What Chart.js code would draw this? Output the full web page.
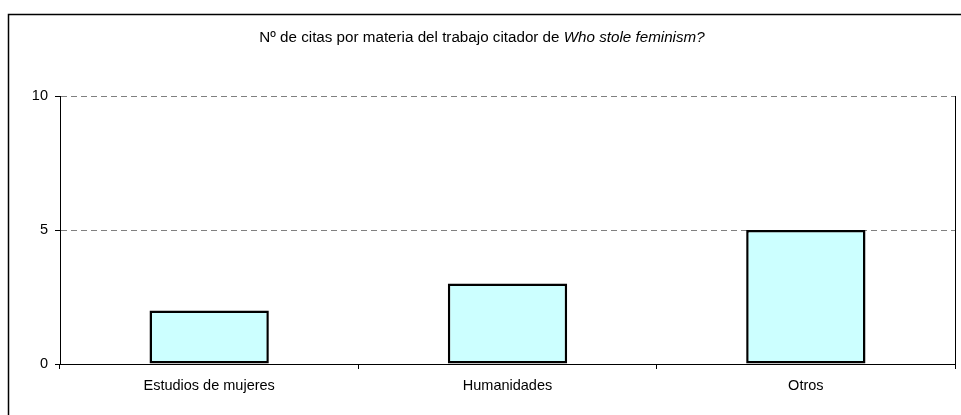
<!DOCTYPE html>
<html>
<head>
<meta charset="utf-8">
<script src="https://cdn.jsdelivr.net/npm/chart.js@4/dist/chart.umd.min.js"></script>
<style>
  html, body { margin: 0; padding: 0; background: #fff; }
  #wrap { width: 961px; height: 415px; position: relative; }
</style>
</head>
<body>
<div id="wrap"><canvas id="c"></canvas></div>
<script>
const categories = ["Estudios de mujeres", "Humanidades", "Otros"];
const citas = [2, 3, 5];
const yTicks = [0, 5, 10];
const titleNormal = "Nº de citas por materia del trabajo citador de ";
const titleItalic = "Who stole feminism?";

const FONT = "'Liberation Sans', Arial, sans-serif";
const TITLE_SIZE = 15.2;

const framePlugin = {
  id: 'frame',
  beforeDraw(chart) {
    const ctx = chart.ctx;
    ctx.save();
    ctx.fillStyle = '#fff';
    ctx.fillRect(0, 0, chart.width, chart.height);
    ctx.strokeStyle = '#000';
    ctx.lineWidth = 1.5;
    ctx.strokeRect(8.5, 14.5, chart.width + 10, chart.height + 10);
    ctx.restore();
  },
  afterDraw(chart) {
    const ctx = chart.ctx;
    const a = chart.chartArea;
    ctx.save();
    ctx.strokeStyle = '#000';
    ctx.lineWidth = 1;
    ctx.beginPath();
    ctx.moveTo(Math.round(a.right) + 0.5, a.top);
    ctx.lineTo(Math.round(a.right) + 0.5, a.bottom + 5);
    ctx.stroke();
    ctx.fillStyle = '#000';
    ctx.textBaseline = 'middle';
    ctx.font = TITLE_SIZE + "px " + FONT;
    const w1 = ctx.measureText(titleNormal).width;
    ctx.font = "italic " + TITLE_SIZE + "px " + FONT;
    const w2 = ctx.measureText(titleItalic).width;
    const x0 = 482 - (w1 + w2) / 2;
    ctx.font = TITLE_SIZE + "px " + FONT;
    ctx.textAlign = 'left';
    ctx.fillText(titleNormal, x0, 38);
    ctx.font = "italic " + TITLE_SIZE + "px " + FONT;
    ctx.fillText(titleItalic, x0 + w1, 38);
    ctx.restore();
  }
};

new Chart(document.getElementById('c'), {
  type: 'bar',
  data: {
    labels: categories,
    datasets: [{
      data: citas,
      backgroundColor: '#CCFFFF',
      borderColor: '#000',
      borderWidth: 2.5,
      borderSkipped: false,
      barPercentage: 0.4,
      categoryPercentage: 1.0
    }]
  },
  options: {
    responsive: true,
    maintainAspectRatio: false,
    animation: false,
    layout: { padding: { top: 96, right: 6, left: 0, bottom: 0 } },
    plugins: {
      legend: { display: false },
      tooltip: { enabled: false },
      title: { display: false }
    },
    scales: {
      x: {
        offset: true,
        grid: {
          offset: true,
          drawOnChartArea: false,
          color: '#000',
          tickColor: '#000',
          tickLength: 5
        },
        border: { display: true, color: '#000', width: 1 },
        ticks: {
          color: '#000',
          font: { family: FONT, size: 14.5 },
          padding: 8,
          maxRotation: 0
        },
        afterFit(s) { s.height = 51; }
      },
      y: {
        min: 0,
        max: 10,
        afterBuildTicks(s) { s.ticks = yTicks.map(v => ({ value: v })); },
        grid: {
          color: c => (c.tick && c.tick.value === 0) ? 'rgba(0,0,0,0)' : '#808080',
          tickColor: '#000',
          tickLength: 5,
          lineWidth: 1
        },
        border: { display: true, color: '#000', width: 1, dash: [6, 4] },
        ticks: {
          color: '#000',
          font: { family: FONT, size: 14.5 },
          padding: 7
        },
        afterFit(s) { s.width = 60; }
      }
    }
  },
  plugins: [framePlugin]
});
</script>
</body>
</html>
